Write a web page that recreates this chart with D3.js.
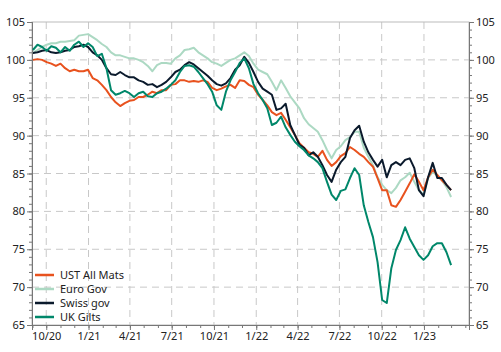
<!DOCTYPE html>
<html><head><meta charset="utf-8">
<script src="https://cdn.jsdelivr.net/npm/d3@7"></script>
<style>
html,body{margin:0;padding:0;background:#fff;}
svg text{font-family:"Noto Sans",sans-serif;}
</style></head>
<body><svg id="c" width="501" height="352"></svg>
<script>
// Data sampled every 10 days starting 2020-09-02
const startDate = "2020-09-02";
const stepDays = 10;
const ust = [100.0,100.1,100.0,99.7,99.5,99.2,99.5,98.9,98.5,98.7,98.5,98.5,98.7,97.6,97.3,96.7,96.0,95.1,94.4,93.9,94.3,94.6,94.7,95.1,95.1,95.4,95.8,95.6,96.0,96.0,96.7,96.8,97.3,97.3,97.1,97.2,97.1,97.3,97.1,96.3,96.0,96.2,96.5,96.7,96.3,97.3,97.2,96.7,96.4,95.4,94.7,94.0,93.1,92.7,93.0,92.1,91.1,90.1,89.0,88.4,87.8,87.6,87.2,88.0,86.8,86.0,86.5,87.3,87.7,88.5,88.1,87.6,87.2,86.5,85.9,84.4,82.8,82.8,80.8,80.6,81.5,82.6,83.7,84.9,83.9,82.8,84.5,85.5,84.8,84.1,83.5,82.8];
const euro = [100.9,101.3,101.7,102.0,102.2,102.2,102.4,102.4,102.5,102.6,103.2,103.3,103.4,103.0,102.6,102.1,101.7,101.0,100.6,100.6,100.4,100.2,100.2,100.0,99.7,99.2,98.5,99.3,99.6,99.6,99.5,100.2,100.6,101.3,101.4,101.6,101.0,100.6,100.2,99.7,99.5,99.2,99.6,100.0,100.2,100.6,101.0,100.5,99.5,98.7,98.4,98.1,97.1,96.0,97.3,96.3,95.2,94.4,93.6,92.3,91.5,91.0,90.5,89.4,88.1,87.0,88.1,88.6,89.4,89.8,90.5,90.5,88.4,87.2,86.1,84.5,83.5,82.8,82.4,83.1,84.1,84.5,85.1,83.9,82.8,82.2,84.4,85.2,84.7,84.1,83.2,81.9];
const swiss = [100.9,101.0,101.2,101.3,101.0,100.9,101.0,101.2,101.3,101.7,101.8,102.0,101.7,101.0,100.6,100.0,98.9,98.1,98.0,98.4,98.0,97.7,97.7,97.3,97.1,96.7,96.8,96.4,96.7,97.1,97.7,98.4,98.7,99.3,99.7,99.4,98.9,98.4,97.9,97.3,96.8,96.6,96.9,97.6,98.7,99.3,100.4,99.6,98.4,97.1,96.2,95.8,95.4,93.4,93.6,94.2,91.4,90.1,88.8,88.4,87.4,87.8,87.2,86.1,84.8,83.9,85.5,86.5,87.2,89.7,90.7,91.3,89.2,87.8,86.8,85.9,86.8,84.5,86.1,86.5,86.1,86.8,87.0,85.7,82.8,82.0,84.5,86.4,84.4,84.4,83.5,82.8];
const ukGilts = [101.3,102.0,101.7,101.2,101.8,101.6,101.0,101.7,101.2,102.0,102.4,101.7,102.2,101.7,100.5,100.8,98.9,96.0,95.4,95.6,95.9,95.6,95.1,95.6,95.8,95.2,95.1,95.6,95.8,96.2,96.7,97.3,98.4,99.2,99.3,99.1,98.4,97.6,96.8,95.8,94.0,93.4,95.8,97.3,98.4,99.6,100.2,98.9,96.8,95.6,94.7,93.6,91.4,91.7,92.5,91.1,90.1,89.2,88.6,88.1,87.4,87.0,86.5,85.7,83.9,82.2,81.5,82.7,82.9,84.4,85.7,84.8,80.8,78.6,76.6,73.3,68.3,67.9,72.5,74.9,76.2,77.9,76.4,75.3,74.2,73.6,74.2,75.4,75.8,75.8,74.6,72.9];
const seriesNames = ["UST All Mats","Euro Gov","Swiss gov","UK Gilts"];
const seriesColors = ["#e8521e","#acd9c3","#0b1a2c","#00876a"];
const yTicks = [65,70,75,80,85,90,95,100,105];
const xTickLabels = ["2020-10-01","2021-01-01","2021-04-01","2021-07-01","2021-10-01","2022-01-01","2022-04-01","2022-07-01","2022-10-01","2023-01-01"];

const parse = d3.timeParse("%Y-%m-%d");
const t0 = parse(startDate);
const dates = ust.map((_, i) => d3.timeDay.offset(t0, i * stepDays));
const seriesVals = [ust, euro, swiss, ukGilts];

const svg = d3.select("#c");
const L = 32, R = 469, T = 22, B = 325;
const x = d3.scaleTime().domain([parse("2020-08-31"), parse("2023-04-09")]).range([L, R]);
const y = d3.scaleLinear().domain([65, 105]).range([B, T]);

const gridColor = "#c8c8c8", axisColor = "#777", textColor = "#222";

// grid
const xt = xTickLabels.map(parse);
svg.append("g").selectAll("line").data(xt).join("line")
  .attr("x1", d => x(d)).attr("x2", d => x(d)).attr("y1", T).attr("y2", B)
  .attr("stroke", gridColor).attr("stroke-width", 1).attr("stroke-dasharray", "7,5");
svg.append("g").selectAll("line").data(yTicks.filter(v => v > 65 && v < 105)).join("line")
  .attr("x1", L).attr("x2", R).attr("y1", d => y(d)).attr("y2", d => y(d))
  .attr("stroke", gridColor).attr("stroke-width", 1).attr("stroke-dasharray", "7,5");

// frame
svg.append("rect").attr("x", L).attr("y", T).attr("width", R - L).attr("height", B - T)
  .attr("fill", "none").attr("stroke", "#bbb").attr("stroke-width", 1);

// minor ticks
const minorY = d3.range(65, 106, 1);
const monthTicks = d3.timeMonth.range(parse("2020-09-01"), parse("2023-04-02"));
function styleAxis(g) {
  g.select(".domain").attr("stroke", axisColor);
  g.selectAll(".tick line").attr("stroke", axisColor);
  g.selectAll("text").attr("fill", textColor).attr("font-size", 11);
}
svg.append("g").attr("transform", `translate(${L},0)`)
  .call(d3.axisLeft(y).tickValues(minorY).tickSize(3).tickFormat(""))
  .call(styleAxis);
svg.append("g").attr("transform", `translate(${R},0)`)
  .call(d3.axisRight(y).tickValues(minorY).tickSize(3).tickFormat(""))
  .call(styleAxis);
svg.append("g").attr("transform", `translate(0,${B})`)
  .call(d3.axisBottom(x).tickValues(monthTicks).tickSize(3).tickFormat(""))
  .call(styleAxis);

// major axes
svg.append("g").attr("transform", `translate(${L},0)`)
  .call(d3.axisLeft(y).tickValues(yTicks).tickSize(5).tickPadding(2).tickFormat(d3.format("d")))
  .call(styleAxis);
svg.append("g").attr("transform", `translate(${R},0)`)
  .call(d3.axisRight(y).tickValues(yTicks).tickSize(5).tickPadding(2).tickFormat(d3.format("d")))
  .call(styleAxis);
svg.append("g").attr("transform", `translate(0,${B})`)
  .call(d3.axisBottom(x).tickValues(xt).tickSize(5).tickPadding(2).tickFormat(d3.timeFormat("%-m/%y")))
  .call(styleAxis);

// lines
const line = d3.line().x((d, i) => x(dates[i])).y(d => y(d));
const drawOrder = [1, 0, 2, 3];
drawOrder.forEach(k => {
  svg.append("path").datum(seriesVals[k]).attr("d", line)
    .attr("fill", "none").attr("stroke", seriesColors[k]).attr("stroke-width", 2)
    .attr("stroke-linejoin", "round");
});

// legend
const lg = svg.append("g");
seriesNames.forEach((n, i) => {
  const yy = 275 + i * 14;
  lg.append("line").attr("x1", 35).attr("x2", 54).attr("y1", yy).attr("y2", yy)
    .attr("stroke", seriesColors[i]).attr("stroke-width", 2.5);
  lg.append("text").attr("x", 60).attr("y", yy).attr("dy", "0.35em")
    .attr("font-size", 11).attr("fill", textColor).text(n);
});
</script></body></html>
